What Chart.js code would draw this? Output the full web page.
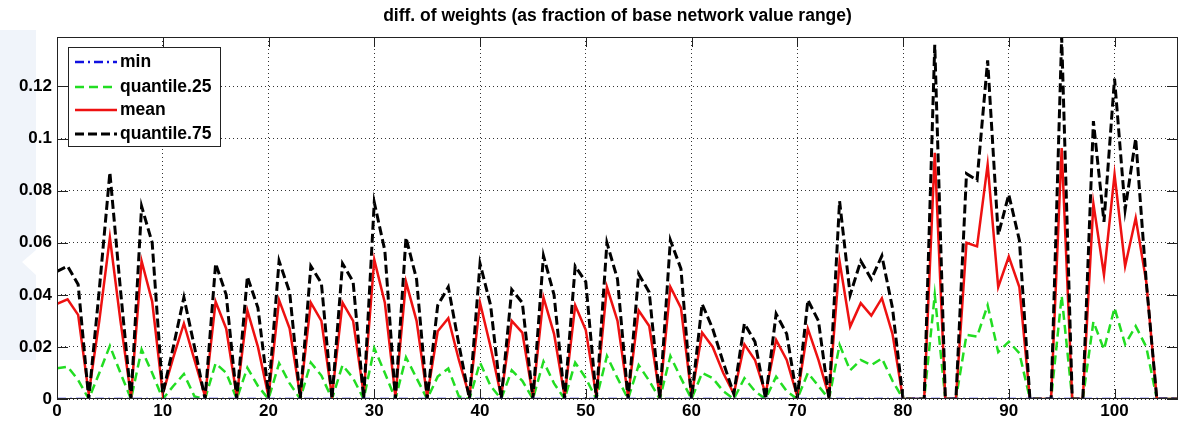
<!DOCTYPE html>
<html>
<head>
<meta charset="utf-8">
<script src="https://cdn.jsdelivr.net/npm/chart.js@4/dist/chart.umd.min.js"></script>
<style>
  html, body { margin: 0; padding: 0; background: #fff; }
  #wrap { width: 1188px; height: 421px; }
</style>
</head>
<body>
<div id="wrap"><canvas id="grafico"></canvas></div>
<script>
// ---- DADOS (x = 0..106) ----
const titulo = "diff. of weights (as fraction of base network value range)";
const nomes = ["min", "quantile.25", "mean", "quantile.75"];

const serieMin = new Array(107).fill(0);

const serieQ25 = [
  0.0118, 0.0124, 0.0073, 0, 0.010, 0.0204, 0.010, 0, 0.019, 0.010,
  0, 0.005, 0.0096, 0.001, 0, 0.0137, 0.010, 0, 0.012, 0.005,
  0, 0.0137, 0.006, 0, 0.014, 0.009, 0, 0.013, 0.008, 0,
  0.0195, 0.010, 0, 0.016, 0.008, 0, 0.0086, 0.0117, 0.001, 0,
  0.014, 0.005, 0, 0.011, 0.007, 0, 0.0144, 0.006, 0, 0.014,
  0.008, 0, 0.0165, 0.008, 0, 0.013, 0.007, 0, 0.0165, 0.008,
  0, 0.010, 0.008, 0.003, 0, 0.008, 0.003, 0, 0.0086, 0.003,
  0, 0.010, 0.005, 0, 0.0208, 0.011, 0.015, 0.013, 0.0156, 0.007,
  0, 0, 0, 0.040, 0, 0, 0.0246, 0.024, 0.036, 0.018,
  0.022, 0.0176, 0, 0, 0, 0.0396, 0, 0, 0.0297, 0.019,
  0.035, 0.021, 0.028, 0.020, 0, 0, 0
];

const serieMedia = [
  0.0365, 0.0383, 0.0323, 0.002, 0.030, 0.062, 0.030, 0.001, 0.053, 0.0374,
  0.002, 0.016, 0.029, 0.015, 0.001, 0.0374, 0.027, 0.001, 0.034, 0.020,
  0.001, 0.038, 0.027, 0.001, 0.037, 0.030, 0.001, 0.037, 0.030, 0.002,
  0.0535, 0.037, 0.001, 0.045, 0.030, 0.001, 0.026, 0.031, 0.015, 0.001,
  0.037, 0.020, 0.001, 0.030, 0.0255, 0.001, 0.039, 0.025, 0.001, 0.036,
  0.0265, 0.001, 0.043, 0.030, 0.001, 0.034, 0.028, 0.001, 0.043, 0.035,
  0.001, 0.0255, 0.020, 0.010, 0.002, 0.021, 0.015, 0.002, 0.0227, 0.015,
  0.001, 0.027, 0.015, 0.001, 0.0528, 0.0278, 0.0368, 0.032, 0.0387, 0.025,
  0, 0, 0, 0.0945, 0, 0, 0.060, 0.0586, 0.090, 0.043,
  0.0547, 0.043, 0, 0, 0, 0.0964, 0, 0, 0.075, 0.0477,
  0.0862, 0.051, 0.0695, 0.045, 0, 0, 0
];

const serieQ75 = [
  0.049, 0.051, 0.044, 0, 0.042, 0.087, 0.042, 0, 0.074, 0.060,
  0.002, 0.020, 0.039, 0.020, 0, 0.052, 0.040, 0, 0.047, 0.035,
  0.002, 0.053, 0.041, 0, 0.051, 0.0445, 0, 0.052, 0.045, 0,
  0.0755, 0.057, 0, 0.062, 0.046, 0, 0.036, 0.043, 0.021, 0,
  0.052, 0.036, 0, 0.042, 0.037, 0, 0.055, 0.040, 0, 0.051,
  0.045, 0, 0.060, 0.046, 0, 0.048, 0.041, 0, 0.061, 0.050,
  0, 0.0365, 0.027, 0.014, 0.002, 0.029, 0.022, 0, 0.0327, 0.025,
  0, 0.038, 0.030, 0, 0.076, 0.040, 0.053, 0.046, 0.055, 0.035,
  0, 0, 0, 0.136, 0, 0, 0.0865, 0.084, 0.130, 0.063,
  0.0785, 0.061, 0, 0, 0, 0.139, 0, 0, 0.1067, 0.068,
  0.123, 0.0727, 0.100, 0.045, 0, 0, 0
];

const ticksX = [0, 10, 20, 30, 40, 50, 60, 70, 80, 90, 100];
const ticksY = [0, 0.02, 0.04, 0.06, 0.08, 0.1, 0.12];

// ---- ESTILOS ----
const FONTE = "'Liberation Sans', Arial, sans-serif";
const estilos = [
  { cor: "#1010e0", dash: [9, 4, 2, 4], largura: 2.5 },
  { cor: "#22dd22", dash: [9, 5], largura: 2.5 },
  { cor: "#ee1111", dash: [], largura: 2.5 },
  { cor: "#000000", dash: [9, 4], largura: 3 }
];
const series = [serieMin, serieQ25, serieMedia, serieQ75];

const datasets = series.map((s, k) => ({
  label: nomes[k],
  data: s.map((v, i) => ({ x: i, y: v })),
  borderColor: estilos[k].cor,
  borderDash: estilos[k].dash,
  borderWidth: estilos[k].largura,
  pointRadius: 0,
  tension: 0,
  fill: false,
  order: k === 0 ? 0 : 4 - k
}));

// ---- FUNDO (marca clara do slide a esquerda) ----
const pluginFundo = {
  id: "fundo",
  beforeDraw(chart) {
    const ctx = chart.ctx;
    ctx.save();
    ctx.fillStyle = "rgba(205, 218, 240, 0.3)";
    ctx.beginPath();
    ctx.moveTo(0, 30); ctx.lineTo(36, 30); ctx.lineTo(36, 250);
    ctx.lineTo(22, 262); ctx.lineTo(36, 275); ctx.lineTo(36, 360);
    ctx.lineTo(0, 360); ctx.closePath();
    ctx.fill();
    ctx.restore();
  }
};

// ---- LEGENDA + MARCAS INTERNAS (estilo MATLAB) ----
const pluginMatlab = {
  id: "matlab",
  afterDatasetsDraw(chart) {
    const ctx = chart.ctx;
    const a = chart.chartArea;
    const sx = chart.scales.x, sy = chart.scales.y;
    ctx.save();
    // caixa
    ctx.strokeStyle = "#222";
    ctx.lineWidth = 1;
    ctx.setLineDash([]);
    ctx.strokeRect(a.left + 0.5, a.top + 0.5, a.right - a.left - 1, a.bottom - a.top - 1);
    // marcas para dentro
    ctx.beginPath();
    ticksX.forEach(v => {
      const px = Math.round(sx.getPixelForValue(v)) + 0.5;
      ctx.moveTo(px, a.bottom); ctx.lineTo(px, a.bottom - 10);
      ctx.moveTo(px, a.top); ctx.lineTo(px, a.top + 10);
    });
    ticksY.forEach(v => {
      const py = Math.round(sy.getPixelForValue(v)) + 0.5;
      ctx.moveTo(a.left, py); ctx.lineTo(a.left + 11, py);
      ctx.moveTo(a.right, py); ctx.lineTo(a.right - 11, py);
    });
    ctx.stroke();

    // legenda
    const bx = 68, by = 47, bw = 152, bh = 99;
    ctx.fillStyle = "#fff";
    ctx.fillRect(bx, by, bw, bh);
    ctx.strokeStyle = "#222";
    ctx.strokeRect(bx + 0.5, by + 0.5, bw, bh);
    const linhasY = [62, 87, 110, 134];
    ctx.font = "bold 17.5px " + FONTE;
    ctx.textBaseline = "middle";
    [0, 1, 2, 3].forEach((k, j) => {
      const y = linhasY[j];
      ctx.strokeStyle = estilos[k].cor;
      ctx.lineWidth = estilos[k].largura;
      ctx.setLineDash(estilos[k].dash);
      ctx.beginPath();
      ctx.moveTo(75, y); ctx.lineTo(117, y);
      ctx.stroke();
      ctx.fillStyle = "#000";
      ctx.fillText(nomes[k], 120, y);
    });
    ctx.restore();
  }
};

new Chart(document.getElementById("grafico"), {
  type: "line",
  data: { datasets: datasets },
  options: {
    responsive: true,
    maintainAspectRatio: false,
    animation: false,
    layout: { padding: { left: 0, right: 10, top: 0, bottom: 0 } },
    plugins: {
      legend: { display: false },
      tooltip: { enabled: false },
      title: {
        display: true,
        text: titulo,
        fullSize: false,
        color: "#000",
        font: { family: FONTE, size: 17.5, weight: "bold", lineHeight: 1.2 },
        padding: { top: 6, bottom: 10 }
      }
    },
    scales: {
      x: {
        type: "linear",
        min: 0,
        max: 106,
        afterFit: s => { s.height = 22; },
        afterBuildTicks: s => { s.ticks = ticksX.map(v => ({ value: v })); },
        ticks: {
          color: "#000",
          padding: 2,
          maxRotation: 0,
          font: { family: FONTE, size: 17, weight: "bold" }
        },
        grid: { color: "#333", lineWidth: 1, drawTicks: false },
        border: { display: false, dash: [1, 3] }
      },
      y: {
        min: 0,
        max: 0.139,
        afterFit: s => { s.width = 57; },
        afterBuildTicks: s => { s.ticks = ticksY.map(v => ({ value: v })); },
        ticks: {
          color: "#000",
          padding: 5,
          font: { family: FONTE, size: 17, weight: "bold" },
          callback: v => String(+v.toFixed(2))
        },
        grid: { color: "#333", lineWidth: 1, drawTicks: false },
        border: { display: false, dash: [1, 3] }
      }
    }
  },
  plugins: [pluginFundo, pluginMatlab]
});
</script>
</body>
</html>
